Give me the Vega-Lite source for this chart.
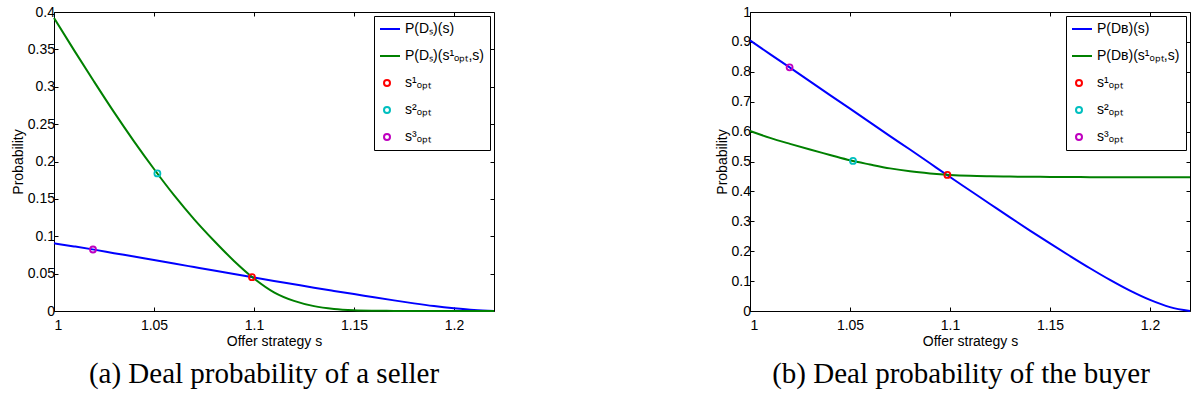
{
  "$schema": "https://vega.github.io/schema/vega-lite/v6.json",
  "background": "white",
  "padding": {"left": 10, "top": 4, "right": 4, "bottom": 4},
  "spacing": 256,
  "bounds": "flush",
  "config": {
    "font": "Liberation Sans",
    "view": {"stroke": "#000000", "strokeWidth": 1},
    "axis": {
      "labelFont": "Liberation Sans",
      "labelFontSize": 14,
      "labelColor": "#000000",
      "titleFont": "Liberation Sans",
      "titleFontSize": 14,
      "titleFontWeight": "normal",
      "titleColor": "#000000",
      "tickColor": "#000000",
      "tickSize": -4,
      "tickWidth": 1,
      "domain": false,
      "grid": false
    },
    "axisX": {"labelPadding": 11, "titlePadding": 2},
    "axisY": {"labelPadding": 3.5, "titlePadding": 2},
    "legend": {
      "orient": "top-right",
      "offset": 4,
      "padding": 6,
      "strokeColor": "#000000",
      "strokeWidth": 1,
      "fillColor": "#ffffff",
      "labelFont": "Liberation Sans",
      "labelFontSize": 14,
      "labelColor": "#000000",
      "labelOffset": 11,
      "labelLimit": 300,
      "rowPadding": 13,
      "clipHeight": 14,
      "symbolStrokeWidth": 2
    },
    "title": {
      "font": "Liberation Serif",
      "fontSize": 29,
      "fontWeight": "normal",
      "color": "#000000",
      "orient": "bottom",
      "anchor": "middle",
      "offset": 12
    }
  },
  "resolve": {
    "scale": {"color": "independent", "shape": "independent", "size": "independent"},
    "legend": {"color": "independent", "shape": "independent", "size": "independent"}
  },
  "datasets": {
    "sellerCurves": [
      {"series": "P(D\u209B)(s)", "s": 1.00, "p": 0.0905},
      {"series": "P(D\u209B)(s)", "s": 1.01, "p": 0.0864},
      {"series": "P(D\u209B)(s)", "s": 1.02, "p": 0.0821},
      {"series": "P(D\u209B)(s)", "s": 1.03, "p": 0.0774},
      {"series": "P(D\u209B)(s)", "s": 1.04, "p": 0.0728},
      {"series": "P(D\u209B)(s)", "s": 1.05, "p": 0.0681},
      {"series": "P(D\u209B)(s)", "s": 1.06, "p": 0.0635},
      {"series": "P(D\u209B)(s)", "s": 1.07, "p": 0.0588},
      {"series": "P(D\u209B)(s)", "s": 1.08, "p": 0.0541},
      {"series": "P(D\u209B)(s)", "s": 1.09, "p": 0.0495},
      {"series": "P(D\u209B)(s)", "s": 1.10, "p": 0.0448},
      {"series": "P(D\u209B)(s)", "s": 1.11, "p": 0.0402},
      {"series": "P(D\u209B)(s)", "s": 1.12, "p": 0.0357},
      {"series": "P(D\u209B)(s)", "s": 1.13, "p": 0.0312},
      {"series": "P(D\u209B)(s)", "s": 1.14, "p": 0.0269},
      {"series": "P(D\u209B)(s)", "s": 1.15, "p": 0.0227},
      {"series": "P(D\u209B)(s)", "s": 1.16, "p": 0.0184},
      {"series": "P(D\u209B)(s)", "s": 1.17, "p": 0.0142},
      {"series": "P(D\u209B)(s)", "s": 1.18, "p": 0.0102},
      {"series": "P(D\u209B)(s)", "s": 1.19, "p": 0.0066},
      {"series": "P(D\u209B)(s)", "s": 1.20, "p": 0.0036},
      {"series": "P(D\u209B)(s)", "s": 1.21, "p": 0.0012},
      {"series": "P(D\u209B)(s)", "s": 1.22, "p": 0.0},
      {"series": "P(D\u209B)(s\u00B9\u2092\u209A\u209C,s)", "s": 1.00, "p": 0.392},
      {"series": "P(D\u209B)(s\u00B9\u2092\u209A\u209C,s)", "s": 1.01, "p": 0.349},
      {"series": "P(D\u209B)(s\u00B9\u2092\u209A\u209C,s)", "s": 1.02, "p": 0.307},
      {"series": "P(D\u209B)(s\u00B9\u2092\u209A\u209C,s)", "s": 1.03, "p": 0.266},
      {"series": "P(D\u209B)(s\u00B9\u2092\u209A\u209C,s)", "s": 1.04, "p": 0.227},
      {"series": "P(D\u209B)(s\u00B9\u2092\u209A\u209C,s)", "s": 1.05, "p": 0.190},
      {"series": "P(D\u209B)(s\u00B9\u2092\u209A\u209C,s)", "s": 1.06, "p": 0.155},
      {"series": "P(D\u209B)(s\u00B9\u2092\u209A\u209C,s)", "s": 1.07, "p": 0.123},
      {"series": "P(D\u209B)(s\u00B9\u2092\u209A\u209C,s)", "s": 1.08, "p": 0.094},
      {"series": "P(D\u209B)(s\u00B9\u2092\u209A\u209C,s)", "s": 1.09, "p": 0.067},
      {"series": "P(D\u209B)(s\u00B9\u2092\u209A\u209C,s)", "s": 1.10, "p": 0.0435},
      {"series": "P(D\u209B)(s\u00B9\u2092\u209A\u209C,s)", "s": 1.11, "p": 0.025},
      {"series": "P(D\u209B)(s\u00B9\u2092\u209A\u209C,s)", "s": 1.12, "p": 0.0135},
      {"series": "P(D\u209B)(s\u00B9\u2092\u209A\u209C,s)", "s": 1.13, "p": 0.0065},
      {"series": "P(D\u209B)(s\u00B9\u2092\u209A\u209C,s)", "s": 1.14, "p": 0.0028},
      {"series": "P(D\u209B)(s\u00B9\u2092\u209A\u209C,s)", "s": 1.15, "p": 0.0011},
      {"series": "P(D\u209B)(s\u00B9\u2092\u209A\u209C,s)", "s": 1.16, "p": 0.0004},
      {"series": "P(D\u209B)(s\u00B9\u2092\u209A\u209C,s)", "s": 1.17, "p": 0.0001},
      {"series": "P(D\u209B)(s\u00B9\u2092\u209A\u209C,s)", "s": 1.18, "p": 0.0},
      {"series": "P(D\u209B)(s\u00B9\u2092\u209A\u209C,s)", "s": 1.19, "p": 0.0},
      {"series": "P(D\u209B)(s\u00B9\u2092\u209A\u209C,s)", "s": 1.20, "p": 0.0},
      {"series": "P(D\u209B)(s\u00B9\u2092\u209A\u209C,s)", "s": 1.21, "p": 0.0},
      {"series": "P(D\u209B)(s\u00B9\u2092\u209A\u209C,s)", "s": 1.22, "p": 0.0}
    ],
    "sellerPoints": [
      {"series": "s\u00B9\u2092\u209A\u209C", "s": 1.099, "p": 0.0452},
      {"series": "s\u00B2\u2092\u209A\u209C", "s": 1.0517, "p": 0.184},
      {"series": "s\u00B3\u2092\u209A\u209C", "s": 1.0195, "p": 0.0823}
    ],
    "buyerCurves": [
      {"series": "P(D\u0299)(s)", "s": 1.00, "p": 0.905},
      {"series": "P(D\u0299)(s)", "s": 1.01, "p": 0.859},
      {"series": "P(D\u0299)(s)", "s": 1.02, "p": 0.814},
      {"series": "P(D\u0299)(s)", "s": 1.03, "p": 0.768},
      {"series": "P(D\u0299)(s)", "s": 1.04, "p": 0.722},
      {"series": "P(D\u0299)(s)", "s": 1.05, "p": 0.677},
      {"series": "P(D\u0299)(s)", "s": 1.06, "p": 0.631},
      {"series": "P(D\u0299)(s)", "s": 1.07, "p": 0.585},
      {"series": "P(D\u0299)(s)", "s": 1.08, "p": 0.540},
      {"series": "P(D\u0299)(s)", "s": 1.09, "p": 0.494},
      {"series": "P(D\u0299)(s)", "s": 1.10, "p": 0.448},
      {"series": "P(D\u0299)(s)", "s": 1.11, "p": 0.403},
      {"series": "P(D\u0299)(s)", "s": 1.12, "p": 0.358},
      {"series": "P(D\u0299)(s)", "s": 1.13, "p": 0.313},
      {"series": "P(D\u0299)(s)", "s": 1.14, "p": 0.269},
      {"series": "P(D\u0299)(s)", "s": 1.15, "p": 0.226},
      {"series": "P(D\u0299)(s)", "s": 1.16, "p": 0.184},
      {"series": "P(D\u0299)(s)", "s": 1.17, "p": 0.143},
      {"series": "P(D\u0299)(s)", "s": 1.18, "p": 0.104},
      {"series": "P(D\u0299)(s)", "s": 1.19, "p": 0.068},
      {"series": "P(D\u0299)(s)", "s": 1.20, "p": 0.037},
      {"series": "P(D\u0299)(s)", "s": 1.21, "p": 0.013},
      {"series": "P(D\u0299)(s)", "s": 1.22, "p": 0.0},
      {"series": "P(D\u0299)(s\u00B9\u2092\u209A\u209C,s)", "s": 1.00, "p": 0.602},
      {"series": "P(D\u0299)(s\u00B9\u2092\u209A\u209C,s)", "s": 1.01, "p": 0.579},
      {"series": "P(D\u0299)(s\u00B9\u2092\u209A\u209C,s)", "s": 1.02, "p": 0.559},
      {"series": "P(D\u0299)(s\u00B9\u2092\u209A\u209C,s)", "s": 1.03, "p": 0.540},
      {"series": "P(D\u0299)(s\u00B9\u2092\u209A\u209C,s)", "s": 1.04, "p": 0.522},
      {"series": "P(D\u0299)(s\u00B9\u2092\u209A\u209C,s)", "s": 1.05, "p": 0.504},
      {"series": "P(D\u0299)(s\u00B9\u2092\u209A\u209C,s)", "s": 1.06, "p": 0.490},
      {"series": "P(D\u0299)(s\u00B9\u2092\u209A\u209C,s)", "s": 1.07, "p": 0.477},
      {"series": "P(D\u0299)(s\u00B9\u2092\u209A\u209C,s)", "s": 1.08, "p": 0.467},
      {"series": "P(D\u0299)(s\u00B9\u2092\u209A\u209C,s)", "s": 1.09, "p": 0.460},
      {"series": "P(D\u0299)(s\u00B9\u2092\u209A\u209C,s)", "s": 1.10, "p": 0.455},
      {"series": "P(D\u0299)(s\u00B9\u2092\u209A\u209C,s)", "s": 1.11, "p": 0.452},
      {"series": "P(D\u0299)(s\u00B9\u2092\u209A\u209C,s)", "s": 1.12, "p": 0.4505},
      {"series": "P(D\u0299)(s\u00B9\u2092\u209A\u209C,s)", "s": 1.13, "p": 0.4495},
      {"series": "P(D\u0299)(s\u00B9\u2092\u209A\u209C,s)", "s": 1.14, "p": 0.449},
      {"series": "P(D\u0299)(s\u00B9\u2092\u209A\u209C,s)", "s": 1.15, "p": 0.4485},
      {"series": "P(D\u0299)(s\u00B9\u2092\u209A\u209C,s)", "s": 1.16, "p": 0.448},
      {"series": "P(D\u0299)(s\u00B9\u2092\u209A\u209C,s)", "s": 1.17, "p": 0.4477},
      {"series": "P(D\u0299)(s\u00B9\u2092\u209A\u209C,s)", "s": 1.18, "p": 0.4475},
      {"series": "P(D\u0299)(s\u00B9\u2092\u209A\u209C,s)", "s": 1.19, "p": 0.4473},
      {"series": "P(D\u0299)(s\u00B9\u2092\u209A\u209C,s)", "s": 1.20, "p": 0.4471},
      {"series": "P(D\u0299)(s\u00B9\u2092\u209A\u209C,s)", "s": 1.21, "p": 0.447},
      {"series": "P(D\u0299)(s\u00B9\u2092\u209A\u209C,s)", "s": 1.22, "p": 0.447}
    ],
    "buyerPoints": [
      {"series": "s\u00B9\u2092\u209A\u209C", "s": 1.0987, "p": 0.455},
      {"series": "s\u00B2\u2092\u209A\u209C", "s": 1.0515, "p": 0.502},
      {"series": "s\u00B3\u2092\u209A\u209C", "s": 1.0198, "p": 0.815}
    ]
  },
  "hconcat": [
    {
      "width": 440,
      "height": 299,
      "title": {"text": "(a) Deal probability of a seller", "orient": "bottom", "dx": -10},
      "layer": [
        {
          "data": {"name": "sellerCurves"},
          "mark": {"type": "line", "strokeWidth": 2, "interpolate": "monotone"},
          "encoding": {
            "x": {"field": "s", "type": "quantitative",
                  "scale": {"domain": [1, 1.22], "nice": false, "zero": false},
                  "axis": {"orient": "bottom", "values": [1, 1.05, 1.1, 1.15, 1.2], "format": "~g", "title": "Offer strategy s"}},
            "y": {"field": "p", "type": "quantitative",
                  "scale": {"domain": [0, 0.4], "nice": false, "zero": true},
                  "axis": {"orient": "left", "values": [0, 0.05, 0.1, 0.15, 0.2, 0.25, 0.3, 0.35, 0.4], "format": "~g", "title": "Probability"}},
            "color": {"field": "series", "type": "nominal",
                      "scale": {"domain": ["P(D\u209B)(s)", "P(D\u209B)(s\u00B9\u2092\u209A\u209C,s)", "s\u00B9\u2092\u209A\u209C", "s\u00B2\u2092\u209A\u209C", "s\u00B3\u2092\u209A\u209C"],
                                "range": ["#0000FF", "#008000", "#FF0000", "#00BFBF", "#BF00BF"]},
                      "legend": {"title": null}}
          }
        },
        {
          "data": {"name": "sellerPoints"},
          "mark": {"type": "point", "filled": false, "strokeWidth": 1.8, "opacity": 1},
          "encoding": {
            "x": {"field": "s", "type": "quantitative",
                  "axis": {"orient": "top", "values": [1, 1.05, 1.1, 1.15, 1.2], "labels": false, "title": null}},
            "y": {"field": "p", "type": "quantitative",
                  "axis": {"orient": "right", "values": [0, 0.05, 0.1, 0.15, 0.2, 0.25, 0.3, 0.35, 0.4], "labels": false, "title": null}},
            "color": {"field": "series", "type": "nominal",
                      "scale": {"domain": ["P(D\u209B)(s)", "P(D\u209B)(s\u00B9\u2092\u209A\u209C,s)", "s\u00B9\u2092\u209A\u209C", "s\u00B2\u2092\u209A\u209C", "s\u00B3\u2092\u209A\u209C"],
                                "range": ["#0000FF", "#008000", "#FF0000", "#00BFBF", "#BF00BF"]},
                      "legend": {"title": null}},
            "shape": {"field": "series", "type": "nominal",
                      "scale": {"domain": ["P(D\u209B)(s)", "P(D\u209B)(s\u00B9\u2092\u209A\u209C,s)", "s\u00B9\u2092\u209A\u209C", "s\u00B2\u2092\u209A\u209C", "s\u00B3\u2092\u209A\u209C"],
                                "range": ["M-4.33,0H4.33", "M-4.33,0H4.33", "circle", "circle", "circle"]},
                      "legend": {"title": null}},
            "size": {"field": "series", "type": "nominal",
                     "scale": {"type": "ordinal", "domain": ["P(D\u209B)(s)", "P(D\u209B)(s\u00B9\u2092\u209A\u209C,s)", "s\u00B9\u2092\u209A\u209C", "s\u00B2\u2092\u209A\u209C", "s\u00B3\u2092\u209A\u209C"],
                               "range": [36, 36, 36, 36, 36]},
                     "legend": {"title": null}}
          }
        }
      ]
    },
    {
      "width": 440,
      "height": 299,
      "title": {"text": "(b) Deal probability of the buyer", "orient": "bottom", "dx": -9},
      "layer": [
        {
          "data": {"name": "buyerCurves"},
          "mark": {"type": "line", "strokeWidth": 2, "interpolate": "monotone"},
          "encoding": {
            "x": {"field": "s", "type": "quantitative",
                  "scale": {"domain": [1, 1.22], "nice": false, "zero": false},
                  "axis": {"orient": "bottom", "values": [1, 1.05, 1.1, 1.15, 1.2], "format": "~g", "title": "Offer strategy s"}},
            "y": {"field": "p", "type": "quantitative",
                  "scale": {"domain": [0, 1], "nice": false, "zero": true},
                  "axis": {"orient": "left", "values": [0, 0.1, 0.2, 0.3, 0.4, 0.5, 0.6, 0.7, 0.8, 0.9, 1], "format": "~g", "title": "Probability"}},
            "color": {"field": "series", "type": "nominal",
                      "scale": {"domain": ["P(D\u0299)(s)", "P(D\u0299)(s\u00B9\u2092\u209A\u209C,s)", "s\u00B9\u2092\u209A\u209C", "s\u00B2\u2092\u209A\u209C", "s\u00B3\u2092\u209A\u209C"],
                                "range": ["#0000FF", "#008000", "#FF0000", "#00BFBF", "#BF00BF"]},
                      "legend": {"title": null}}
          }
        },
        {
          "data": {"name": "buyerPoints"},
          "mark": {"type": "point", "filled": false, "strokeWidth": 1.8, "opacity": 1},
          "encoding": {
            "x": {"field": "s", "type": "quantitative",
                  "axis": {"orient": "top", "values": [1, 1.05, 1.1, 1.15, 1.2], "labels": false, "title": null}},
            "y": {"field": "p", "type": "quantitative",
                  "axis": {"orient": "right", "values": [0, 0.1, 0.2, 0.3, 0.4, 0.5, 0.6, 0.7, 0.8, 0.9, 1], "labels": false, "title": null}},
            "color": {"field": "series", "type": "nominal",
                      "scale": {"domain": ["P(D\u0299)(s)", "P(D\u0299)(s\u00B9\u2092\u209A\u209C,s)", "s\u00B9\u2092\u209A\u209C", "s\u00B2\u2092\u209A\u209C", "s\u00B3\u2092\u209A\u209C"],
                                "range": ["#0000FF", "#008000", "#FF0000", "#00BFBF", "#BF00BF"]},
                      "legend": {"title": null}},
            "shape": {"field": "series", "type": "nominal",
                      "scale": {"domain": ["P(D\u0299)(s)", "P(D\u0299)(s\u00B9\u2092\u209A\u209C,s)", "s\u00B9\u2092\u209A\u209C", "s\u00B2\u2092\u209A\u209C", "s\u00B3\u2092\u209A\u209C"],
                                "range": ["M-4.33,0H4.33", "M-4.33,0H4.33", "circle", "circle", "circle"]},
                      "legend": {"title": null}},
            "size": {"field": "series", "type": "nominal",
                     "scale": {"type": "ordinal", "domain": ["P(D\u0299)(s)", "P(D\u0299)(s\u00B9\u2092\u209A\u209C,s)", "s\u00B9\u2092\u209A\u209C", "s\u00B2\u2092\u209A\u209C", "s\u00B3\u2092\u209A\u209C"],
                               "range": [36, 36, 36, 36, 36]},
                     "legend": {"title": null}}
          }
        }
      ]
    }
  ]
}
